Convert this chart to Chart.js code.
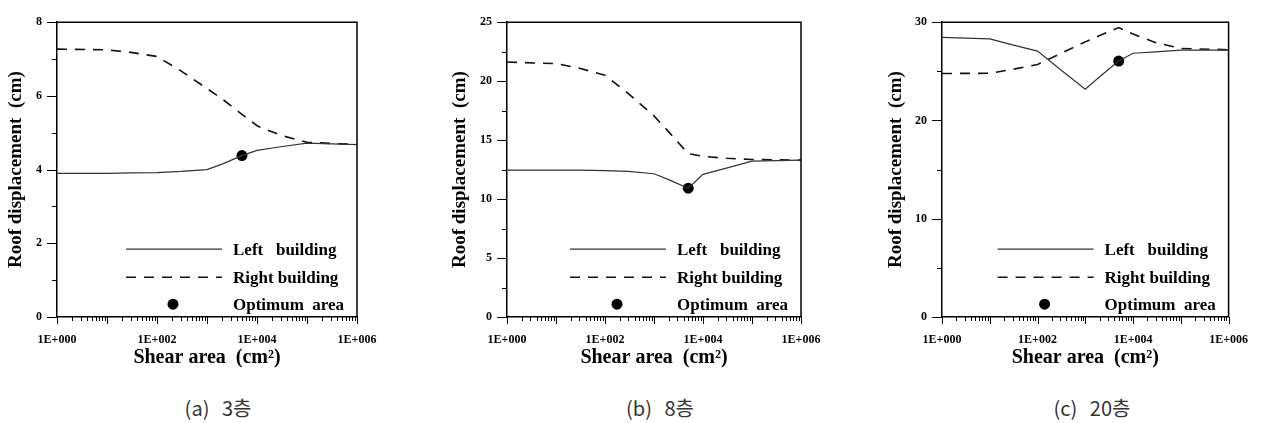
<!DOCTYPE html>
<html>
<head>
<meta charset="utf-8">
<script src="https://cdn.jsdelivr.net/npm/chart.js@4.4.1/dist/chart.umd.min.js"></script>
<style>
  body { margin: 0; background: #fff; width: 1264px; height: 423px; position: relative; overflow: hidden; }
  canvas { position: absolute; top: 0; }
  .caption { position: absolute; top: 397px; line-height: 22px; font-family: "Noto Sans CJK KR", sans-serif;
             font-size: 20px; color: #333; white-space: pre; transform: translateX(-50%); word-spacing: 8px; }
</style>
</head>
<body>
<canvas id="c3" width="420" height="372" style="left:0px"></canvas>
<canvas id="c8" width="422" height="372" style="left:420px"></canvas>
<canvas id="c20" width="420" height="372" style="left:844px"></canvas>
<div class="caption" style="left:218px">(a) 3층</div>
<div class="caption" style="left:660px">(b) 8층</div>
<div class="caption" style="left:1092px">(c) 20층</div>
<script>
// shear area (cm2) at which roof displacements were read
var shearArea = [1, 10, 30, 100, 300, 1000, 2000, 5000, 10000, 30000, 100000, 1000000];

// roof displacement (cm), 3 storey
var left3 = [3.90, 3.90, 3.91, 3.92, 3.95, 4.00, 4.15, 4.38, 4.52, 4.62, 4.72, 4.68];
var right3 = [7.27, 7.25, 7.18, 7.07, 6.68, 6.20, 5.92, 5.50, 5.19, 4.93, 4.74, 4.68];

// 8 storey
var left8 = [12.45, 12.45, 12.45, 12.42, 12.35, 12.15, 11.65, 10.92, 12.10, 12.62, 13.22, 13.30];
var right8 = [21.62, 21.49, 21.10, 20.50, 18.95, 17.05, 15.70, 13.85, 13.62, 13.46, 13.36, 13.30];

// 20 storey
var left20 = [28.46, 28.30, 27.70, 27.06, 25.18, 23.18, 24.45, 26.05, 26.84, 26.98, 27.16, 27.16];
var right20 = [24.78, 24.80, 25.20, 25.70, 26.80, 28.00, 28.65, 29.45, 28.80, 27.92, 27.33, 27.20];

// optimum damper area for each building
var optimumArea = [5000, 5000, 5000];
var optimumDisp = [4.38, 10.92, 26.05];

var xTickValues = [1, 100, 10000, 1000000];
var yMax = [8, 25, 30];
var yLabelStep = [2, 5, 10];
var seriesLabels = ["Left   building", "Right building", "Optimum  area"];

var serif = "Liberation Serif";

// plot box placement inside each canvas
var panels = [
  { id: "c3", w: 420, plotL: 57, plotR: 357, titleX: 16, left: left3, right: right3 },
  { id: "c8", w: 422, plotL: 87, plotR: 381, titleX: 40, left: left8, right: right8 },
  { id: "c20", w: 420, plotL: 98, plotR: 393, titleX: 52, left: left20, right: right20 }
];

var plotTop = 11, plotBottom = 317, canvasH = 372;

// box frame plus the tick marks (drawn outward, majors longer)
var axisMarks = {
  id: "axisMarks",
  afterDraw: function (chart) {
    var ctx = chart.ctx, a = chart.chartArea;
    var xs = chart.scales.x, ys = chart.scales.y;
    ctx.save();
    ctx.strokeStyle = "#000";
    ctx.lineWidth = 1.5;
    ctx.beginPath();
    ctx.moveTo(a.left, a.top);
    ctx.lineTo(a.right, a.top);
    ctx.lineTo(a.right, a.bottom);
    ctx.stroke();

    ctx.lineWidth = 1;
    ctx.beginPath();
    for (var e = 0; e <= 6; e++) {
      for (var m = 1; m < 10; m++) {
        if (e === 6 && m > 1) break;
        var px = Math.round(xs.getPixelForValue(m * Math.pow(10, e))) + 0.5;
        ctx.moveTo(px, a.bottom);
        ctx.lineTo(px, a.bottom + (m === 1 ? 7 : 4));
      }
    }
    var step = chart.options.scales.y.ticks.stepSize / 2;
    for (var v = 0; v <= ys.max + 1e-9; v += step) {
      var py = Math.round(ys.getPixelForValue(v)) + 0.5;
      var major = Math.abs(v / (step * 2) - Math.round(v / (step * 2))) < 1e-6;
      ctx.moveTo(a.left, py);
      ctx.lineTo(a.left - (major ? 10 : 5), py);
    }
    ctx.stroke();
    ctx.restore();
  }
};

// legend sitting in the lower right of the plot box
var insideLegend = {
  id: "insideLegend",
  afterDraw: function (chart) {
    var ctx = chart.ctx, a = chart.chartArea;
    var rows = [227, 255, 282];
    chart.data.datasets.forEach(function (ds, k) {
      var y = a.top + rows[k];
      ctx.save();
      if (ds.showLine === false) {
        ctx.fillStyle = ds.pointBackgroundColor;
        ctx.beginPath();
        ctx.arc(a.right - 184, y, ds.pointRadius, 0, Math.PI * 2);
        ctx.fill();
      } else {
        ctx.strokeStyle = ds.borderColor;
        ctx.lineWidth = ds.borderWidth;
        ctx.setLineDash(ds.borderDash || []);
        ctx.beginPath();
        ctx.moveTo(a.right - 231, y);
        ctx.lineTo(a.right - 135, y);
        ctx.stroke();
      }
      ctx.fillStyle = "#000";
      ctx.font = "bold 17px '" + serif + "'";
      ctx.textBaseline = "middle";
      ctx.fillText(ds.label, a.right - 124, y + 1);
      ctx.restore();
    });
  }
};

function toPoints(ys) {
  return shearArea.map(function (x, k) { return { x: x, y: ys[k] }; });
}

panels.forEach(function (p, i) {
  new Chart(document.getElementById(p.id), {
    type: "line",
    data: {
      datasets: [
        { label: seriesLabels[0], data: toPoints(p.left), borderColor: "#333", borderWidth: 1.2,
          pointRadius: 0, tension: 0 },
        { label: seriesLabels[1], data: toPoints(p.right), borderColor: "#111", borderWidth: 1.6,
          borderDash: [10, 8], pointRadius: 0, tension: 0 },
        { label: seriesLabels[2], data: [{ x: optimumArea[i], y: optimumDisp[i] }], showLine: false,
          pointRadius: 5.5, pointBackgroundColor: "#000", pointBorderWidth: 0 }
      ]
    },
    options: {
      responsive: false,
      animation: false,
      layout: { padding: { left: 0, right: p.w - p.plotR, top: plotTop, bottom: 0 } },
      plugins: { legend: { display: false }, tooltip: { enabled: false } },
      scales: {
        x: {
          type: "logarithmic", min: 1, max: 1000000,
          afterBuildTicks: function (s) { s.ticks = xTickValues.map(function (v) { return { value: v }; }); },
          afterFit: function (s) { s.height = canvasH - plotBottom; },
          ticks: {
            autoSkip: false, maxRotation: 0, padding: 16, color: "#000",
            font: { family: serif, weight: "bold", size: 12 },
            callback: function (v) {
              return "1E+" + String(Math.round(Math.log10(v))).padStart(3, "0");
            }
          },
          grid: { display: false, drawTicks: false },
          border: { display: true, color: "#000", width: 1.5 },
          title: { display: true, text: "Shear area  (cm²)", color: "#000",
                   font: { family: serif, weight: "bold", size: 20 }, padding: { top: 0, bottom: 2 } }
        },
        y: {
          min: 0, max: yMax[i],
          afterFit: function (s) { s.width = p.plotL; },
          ticks: { stepSize: yLabelStep[i], padding: 15, color: "#000",
                   font: { family: serif, weight: "bold", size: 12 } },
          grid: { display: false, drawTicks: false },
          border: { display: true, color: "#000", width: 1.5 },
          title: { display: true, text: "Roof displacement  (cm)", color: "#000",
                   font: { family: serif, weight: "bold", size: 19 },
                   padding: { top: p.titleX - 11.4, bottom: 0 } }
        }
      }
    },
    plugins: [axisMarks, insideLegend]
  });
});
</script>
</body>
</html>
